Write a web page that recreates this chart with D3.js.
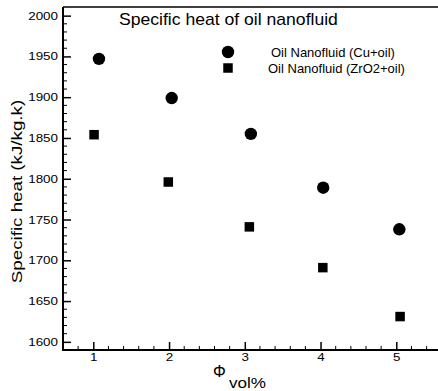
<!DOCTYPE html>
<html>
<head>
<meta charset="utf-8">
<script src="https://cdn.jsdelivr.net/npm/d3@7"></script>
<style>
  html, body { margin: 0; padding: 0; background: #fff; }
  svg { display: block; font-family: "Liberation Sans", Arial, sans-serif; }
</style>
</head>
<body>
<svg id="chart" width="438" height="391"></svg>
<script>
// Specific heat vs. volume fraction for two oil-based nanofluids
const cuPhi = [1.075, 2.035, 3.08, 4.035, 5.04];
const cuCp = [1947, 1899, 1855, 1789, 1738];
const zrPhi = [1.01, 1.99, 3.06, 4.03, 5.05];
const zrCp = [1854, 1796, 1741, 1691, 1631];
const xTicks = [1, 2, 3, 4, 5];
const yTicks = [1600, 1650, 1700, 1750, 1800, 1850, 1900, 1950, 2000];
const seriesNames = ["Oil Nanofluid (Cu+oil)", "Oil Nanofluid (ZrO2+oil)"];

const svg = d3.select("#chart");
const plotLeft = 63, plotTop = 7, plotBottom = 350, plotRight = 441.75;

const x = d3.scaleLinear().domain([0.6, 5.6]).range([plotLeft, plotRight]);
const y = d3.scaleLinear().domain([1590, 2010.6]).range([plotBottom, plotTop]);

const black = "#000";
const stretch = 1.22; // wide lettering for tick labels and axis titles

// minor ticks
const xMinor = d3.range(0.8, 5.61, 0.2).filter(v => Math.abs(v - Math.round(v)) > 1e-6);
const yMinor = d3.range(1600, 2010, 10).filter(v => v % 50 !== 0);

const g = svg.append("g");

// bottom axis with inward ticks
const xAxis = d3.axisBottom(x).tickValues(xTicks).tickSize(-8).tickPadding(3).tickFormat(d3.format("d"));
const xa = g.append("g").attr("transform", `translate(0,${plotBottom})`).call(xAxis);
xa.select(".domain").remove();
xa.selectAll(".tick line").attr("stroke", black).attr("stroke-width", 1.5);
xa.selectAll(".tick text").attr("font-size", 11).attr("fill", black)
  .attr("font-family", "Liberation Sans, Arial, sans-serif")
  .attr("transform", `scale(${stretch},1)`);
g.append("g").selectAll("line").data(xMinor).join("line")
  .attr("x1", d => x(d)).attr("x2", d => x(d))
  .attr("y1", plotBottom).attr("y2", plotBottom - 4)
  .attr("stroke", black).attr("stroke-width", 1);

// left axis with inward ticks
const yAxis = d3.axisLeft(y).tickValues(yTicks).tickSize(-8).tickPadding(5).tickFormat(d3.format("d"));
const ya = g.append("g").attr("transform", `translate(${plotLeft},0)`).call(yAxis);
ya.select(".domain").remove();
ya.selectAll(".tick line").attr("stroke", black).attr("stroke-width", 1.5);
ya.selectAll(".tick text").attr("font-size", 11).attr("fill", black)
  .attr("font-family", "Liberation Sans, Arial, sans-serif")
  .attr("x", -5 / stretch)
  .attr("transform", `scale(${stretch},1)`);
g.append("g").selectAll("line").data(yMinor).join("line")
  .attr("x1", plotLeft).attr("x2", plotLeft + 4)
  .attr("y1", d => y(d)).attr("y2", d => y(d))
  .attr("stroke", black).attr("stroke-width", 1);

// frame lines
g.append("line").attr("x1", plotLeft).attr("x2", 438).attr("y1", plotBottom).attr("y2", plotBottom)
  .attr("stroke", black).attr("stroke-width", 2);
g.append("line").attr("x1", plotLeft).attr("x2", plotLeft).attr("y1", plotTop).attr("y2", plotBottom + 1)
  .attr("stroke", black).attr("stroke-width", 2);
g.append("line").attr("x1", plotLeft).attr("x2", 438).attr("y1", plotTop).attr("y2", plotTop)
  .attr("stroke", black).attr("stroke-width", 1.5);

// data marks
const cu = cuPhi.map((p, i) => ({ p, v: cuCp[i] }));
const zr = zrPhi.map((p, i) => ({ p, v: zrCp[i] }));
const sq = 9.5;

g.append("g").selectAll("circle").data(cu).join("circle")
  .attr("cx", d => x(d.p)).attr("cy", d => y(d.v)).attr("r", 6.2).attr("fill", black);
g.append("g").selectAll("rect").data(zr).join("rect")
  .attr("x", d => x(d.p) - sq / 2).attr("y", d => y(d.v) - sq / 2)
  .attr("width", sq).attr("height", sq).attr("fill", black);

// title
svg.append("text").attr("transform", "translate(119,25) scale(1.1,1)")
  .attr("font-size", 16).attr("fill", black)
  .text("Specific heat of oil nanofluid");

// legend
svg.append("circle").attr("cx", 228).attr("cy", 52).attr("r", 6.2).attr("fill", black);
svg.append("rect").attr("x", 228 - sq / 2).attr("y", 68 - sq / 2).attr("width", sq).attr("height", sq).attr("fill", black);
svg.append("text").attr("x", 271).attr("y", 56.5).attr("font-size", 13)
  .attr("fill", black).text(seriesNames[0]);
svg.append("text").attr("x", 268).attr("y", 72.5).attr("font-size", 13)
  .attr("fill", black).text(seriesNames[1]);

// axis titles
svg.append("text").attr("transform", `translate(22,191.5) rotate(-90) scale(1.25,1)`)
  .attr("text-anchor", "middle").attr("font-size", 15).attr("fill", black)
  .text("Specific heat (kJ/kg.k)");
svg.append("text").attr("x", 213).attr("y", 377).attr("font-size", 16).attr("fill", black).text("Φ");
svg.append("text").attr("transform", `translate(229,388) scale(${stretch},1)`)
  .attr("font-size", 14).attr("fill", black).text("vol%");
</script>
</body>
</html>
